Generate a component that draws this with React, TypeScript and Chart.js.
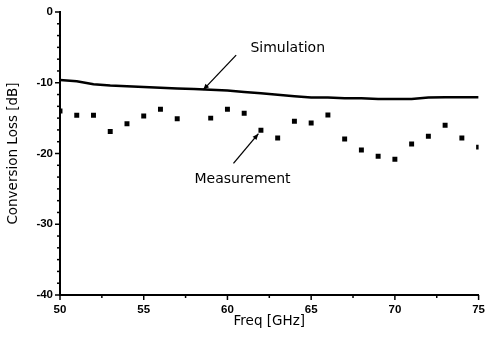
import React, { useEffect, useRef } from "react";
import { Chart, registerables } from "chart.js";

Chart.register(...registerables);

const simFreq = [50, 51, 52, 53, 54, 55, 56, 57, 58, 59, 60, 61, 62, 63, 64, 65, 66, 67, 68, 69, 70, 71, 72, 73, 74, 75];
const simLoss = [-9.6, -9.8, -10.2, -10.4, -10.5, -10.6, -10.7, -10.8, -10.9, -11.0, -11.1, -11.3, -11.5, -11.7, -11.9, -12.1, -12.1, -12.2, -12.2, -12.3, -12.3, -12.3, -12.1, -12.05, -12.05, -12.05];

const measFreq = [50, 51, 52, 53, 54, 55, 56, 57, 59, 60, 61, 62, 63, 64, 65, 66, 67, 68, 69, 70, 71, 72, 73, 74, 75];
const measLoss = [-14.0, -14.6, -14.6, -16.9, -15.8, -14.7, -13.75, -15.1, -15.0, -13.75, -14.3, -16.7, -17.8, -15.45, -15.7, -14.55, -17.95, -19.5, -20.4, -20.8, -18.65, -17.55, -16.0, -17.8, -19.1];

const xMin = 50;
const xMax = 75;
const xMajor = 5;
const xMinor = 2.5;
const yMin = -40;
const yMax = 0;
const yMajor = 10;
const yMinorCount = 6;

const annotations = [
  { text: "Simulation", x: 63.6, y: -5.1, fromX: 60.52, fromY: -6.1, toX: 58.55, toY: -11.0 },
  { text: "Measurement", x: 60.9, y: -23.6, fromX: 60.36, fromY: -21.4, toX: 61.85, toY: -17.2 },
];

const TICK_FONT = { family: "'Liberation Sans', Arial, sans-serif", size: 11.5, weight: "bold" as const };
const TITLE_FONT = { family: "'DejaVu Sans', sans-serif", size: 13.5 };

function isMult(v: number, m: number) {
  const r = v / m;
  return Math.abs(r - Math.round(r)) < 1e-6;
}

const ticksPlugin = {
  id: "customTicks",
  afterDraw(chart: any) {
    const { ctx, scales } = chart;
    const xs = scales.x;
    const ys = scales.y;
    ctx.save();
    ctx.strokeStyle = "#000";
    ctx.lineWidth = 1.5;
    const bottom = ys.bottom;
    for (let v = xMin; v <= xMax + 1e-9; v += xMinor) {
      const px = xs.getPixelForValue(v);
      const len = isMult(v, xMajor) ? 5 : 3;
      ctx.beginPath();
      ctx.moveTo(px, bottom);
      ctx.lineTo(px, bottom + len);
      ctx.stroke();
    }
    const left = xs.left;
    const step = yMajor / yMinorCount;
    for (let i = 0; i <= ((yMax - yMin) / yMajor) * yMinorCount; i++) {
      const v = yMin + i * step;
      const py = ys.getPixelForValue(v);
      const len = isMult(v, yMajor) ? 5 : 3;
      ctx.beginPath();
      ctx.moveTo(left, py);
      ctx.lineTo(left - len, py);
      ctx.stroke();
    }
    ctx.restore();
  },
  afterDatasetsDraw(chart: any) {
    const { ctx, scales } = chart;
    const xs = scales.x;
    const ys = scales.y;
    ctx.save();
    ctx.fillStyle = "#000";
    ctx.strokeStyle = "#000";
    ctx.font = "14px 'DejaVu Sans', sans-serif";
    ctx.textAlign = "center";
    ctx.textBaseline = "middle";
    for (const a of annotations) {
      ctx.fillText(a.text, xs.getPixelForValue(a.x), ys.getPixelForValue(a.y));
      const x1 = xs.getPixelForValue(a.fromX);
      const y1 = ys.getPixelForValue(a.fromY);
      const x2 = xs.getPixelForValue(a.toX);
      const y2 = ys.getPixelForValue(a.toY);
      ctx.lineWidth = 1.3;
      ctx.beginPath();
      ctx.moveTo(x1, y1);
      ctx.lineTo(x2, y2);
      ctx.stroke();
      const ang = Math.atan2(y2 - y1, x2 - x1);
      const hl = 6;
      const hw = 2.5;
      ctx.beginPath();
      ctx.moveTo(x2, y2);
      ctx.lineTo(x2 - hl * Math.cos(ang) + hw * Math.sin(ang), y2 - hl * Math.sin(ang) - hw * Math.cos(ang));
      ctx.lineTo(x2 - hl * Math.cos(ang) - hw * Math.sin(ang), y2 - hl * Math.sin(ang) + hw * Math.cos(ang));
      ctx.closePath();
      ctx.fill();
    }
    ctx.restore();
  },
};

export default function App() {
  const ref = useRef<HTMLCanvasElement | null>(null);
  useEffect(() => {
    if (!ref.current) return;
    const chart = new Chart(ref.current, {
      type: "scatter",
      data: {
        datasets: [
          {
            type: "line",
            label: "Simulation",
            data: simFreq.map((f, i) => ({ x: f, y: simLoss[i] })),
            borderColor: "#000",
            borderWidth: 2.5,
            pointRadius: 0,
            tension: 0,
            fill: false,
          } as any,
          {
            label: "Measurement",
            data: measFreq.map((f, i) => ({ x: f, y: measLoss[i] })),
            pointStyle: "rect",
            pointRadius: 3.5,
            backgroundColor: "#000",
            borderColor: "#000",
            borderWidth: 0,
          },
        ],
      },
      options: {
        responsive: false,
        animation: false,
        events: [],
        layout: { padding: { top: 12, right: 8, left: 0, bottom: 0 } },
        plugins: { legend: { display: false }, tooltip: { enabled: false } },
        scales: {
          x: {
            type: "linear",
            min: xMin,
            max: xMax,
            afterFit: (s: any) => { s.height = 46; },
            afterBuildTicks: (s: any) => {
              const t = [];
              for (let v = xMin; v <= xMax; v += xMajor) t.push({ value: v });
              s.ticks = t;
            },
            ticks: {
              color: "#000",
              font: TICK_FONT,
              padding: 3,
              maxRotation: 0,
              autoSkip: false,
              callback: (v: any) => String(v),
            },
            grid: { display: true, drawOnChartArea: false, drawTicks: true, tickLength: 5, tickColor: "rgba(0,0,0,0)", color: "rgba(0,0,0,0)" },
            border: { display: true, color: "#000", width: 2 },
            title: { display: true, text: "Freq [GHz]", color: "#000", font: TITLE_FONT, padding: { top: 0, bottom: 11 } },
          },
          y: {
            type: "linear",
            min: yMin,
            max: yMax,
            afterFit: (s: any) => { s.width = 60; },
            afterBuildTicks: (s: any) => {
              const t = [];
              for (let v = yMin; v <= yMax; v += yMajor) t.push({ value: v });
              s.ticks = t;
            },
            ticks: {
              color: "#000",
              font: TICK_FONT,
              padding: 2,
              autoSkip: false,
              callback: (v: any) => String(v),
            },
            grid: { display: true, drawOnChartArea: false, drawTicks: true, tickLength: 5, tickColor: "rgba(0,0,0,0)", color: "rgba(0,0,0,0)" },
            border: { display: true, color: "#000", width: 2 },
            title: { display: true, text: "Conversion Loss [dB]", color: "#000", font: TITLE_FONT, padding: { top: 5, bottom: 0 } },
          },
        },
      },
      plugins: [ticksPlugin],
    });
    return () => chart.destroy();
  }, []);
  return (
    <div style={{ position: "fixed", left: 0, top: 0, width: 488, height: 341, background: "#fff" }}>
      <canvas ref={ref} width={488} height={341} style={{ display: "block" }} />
    </div>
  );
}
